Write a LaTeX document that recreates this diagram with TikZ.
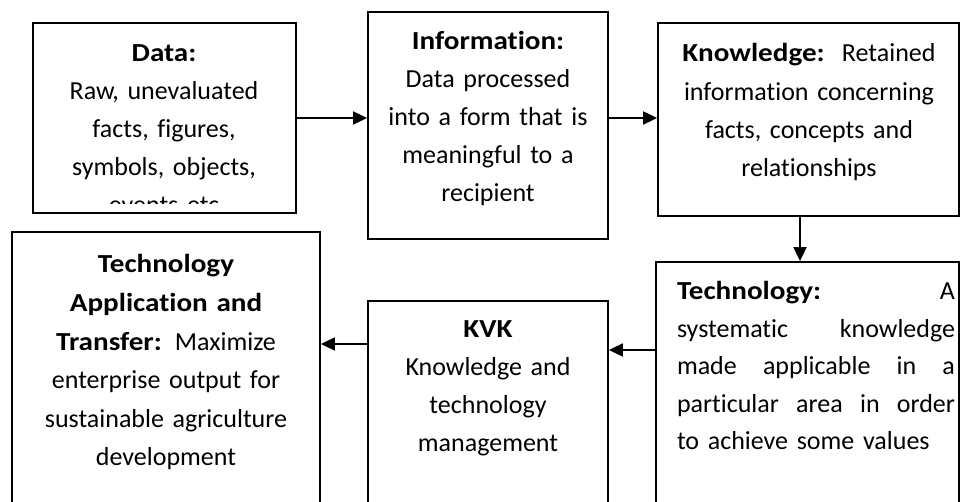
\documentclass[tikz,border=0pt]{standalone}
\usepackage{fontspec}
\setmainfont{Carlito}[Ligatures=NoCommon,BoldFeatures={FakeStretch=1.12}]
\usetikzlibrary{arrows.meta}
\newcommand{\jline}[1]{\leavevmode\hbox to 278pt{#1}}
\begin{document}
\begin{tikzpicture}[x=1pt,y=-1pt,
  box/.style={draw=black,line width=1.8pt,rectangle,inner sep=0pt},
  txt/.style={inner sep=0pt,outer sep=0pt,align=center,text=black},
  conn/.style={line width=1.8pt,-{Triangle[length=14pt,width=13pt]}}]
\useasboundingbox (0,0) rectangle (961,502);
\clip (0,0) rectangle (961,502);
% boxes
\node[box,minimum width=263pt,minimum height=190pt] (data) at (164.5,118) {};
\node[box,minimum width=240pt,minimum height=227pt] (info) at (488,125.5) {};
\node[box,minimum width=301pt,minimum height=193pt] (know) at (808.5,119.5) {};
\node[box,minimum width=303pt,minimum height=298pt] (tech) at (807.5,411) {};
\node[box,minimum width=240pt,minimum height=259pt] (kvk) at (488,430.5) {};
\node[box,minimum width=308pt,minimum height=328pt] (app) at (166,396) {};
% texts
\begin{scope}
\clip (34,24) rectangle (295,203.5);
\node[txt,anchor=north,text width=250pt,font=\fontsize{26}{38}\selectfont] (tdata) at (164,32)
  {\rule{0pt}{30pt}\textbf{Data:}\\Raw, unevaluated\\facts, figures,\\symbols, objects,\\events etc};
\end{scope}
\node[txt,anchor=north,text width=230pt,font=\fontsize{26}{37.8}\selectfont] (tinfo) at (488,20)
  {\rule{0pt}{30pt}\textbf{Information:}\\Data processed\\into a form that is\\meaningful to a\\recipient};
\node[txt,anchor=north,text width=290pt,font=\fontsize{26}{38.2}\selectfont] (tknow) at (809,32)
  {\rule{0pt}{30pt}\textbf{Knowledge:}\ \ Retained\\information concerning\\facts, concepts and\\relationships};
\node[txt,anchor=north west,align=left,text width=278pt,font=\fontsize{26}{37.5}\selectfont] (ttech) at (677,270)
  {\rule{0pt}{30pt}\jline{\textbf{Technology:}\hfill A}\\
   \jline{systematic\hfill knowledge}\\
   \jline{made\hfill applicable\hfill in\hfill a}\\
   \jline{particular\hfill area\hfill in\hfill order}\\
   to achieve some values};
\node[txt,anchor=north,text width=230pt,font=\fontsize{26}{38}\selectfont] (tkvk) at (488,308)
  {\rule{0pt}{30pt}\textbf{KVK}\\Knowledge and\\technology\\management};
\node[txt,anchor=north,text width=300pt,font=\fontsize{26}{38.6}\selectfont] (tapp) at (166,243)
  {\rule{0pt}{30pt}\textbf{Technology}\\\textbf{Application and}\\\textbf{Transfer:} Maximize\\enterprise output for\\sustainable agriculture\\development};
% connectors
\coordinate (k3) at (800,0);
\coordinate (k4) at (0,350);
\coordinate (k5) at (0,344);
\draw[conn] (data.east) -- (data.east -| info.west);
\draw[conn] (info.east |- data.east) -- (know.west |- data.east);
\draw[conn] (k3 |- know.south) -- (k3 |- tech.north);
\draw[conn] (tech.west |- k4) -- (kvk.east |- k4);
\draw[conn] (kvk.west |- k5) -- (app.east |- k5);
\end{tikzpicture}
\end{document}
